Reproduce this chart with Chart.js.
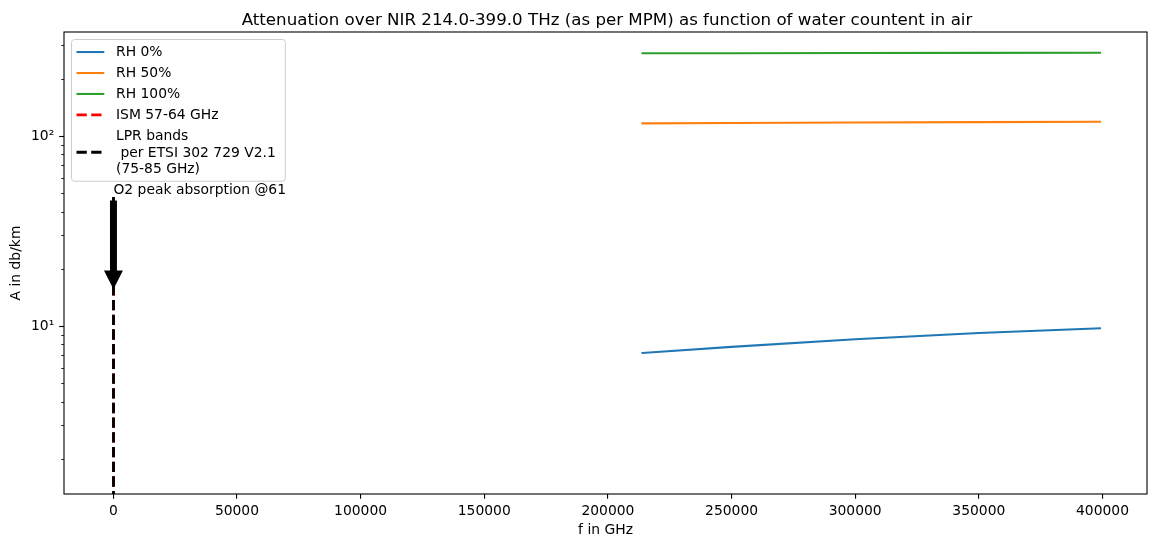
<!DOCTYPE html>
<html><head><meta charset="utf-8">
<script src="https://cdn.jsdelivr.net/npm/chart.js@4.4.1/dist/chart.umd.min.js"></script>
<style>html,body{margin:0;padding:0;background:#fff;}#wrap{width:1159px;height:547px;}</style>
</head><body><div id="wrap"><canvas id="c" width="1159" height="547"></canvas></div>
<script>
const titleText = 'Attenuation over NIR 214.0-399.0 THz (as per MPM) as function of water countent in air';
const xLabel = 'f in GHz';
const yLabel = 'A in db/km';
// frequencies in GHz
const freqGHz = [214000, 250000, 300000, 350000, 399000];
const rh0 = [7.21, 7.77, 8.51, 9.18, 9.72];
const rh50 = [116.6, 117.0, 117.7, 118.3, 118.9];
const rh100 = [272.4, 272.8, 273.3, 273.9, 274.4];
const ismBand = [57, 64];
const lprBand = [75, 85];
const bandLineY = [1, 50];
const o2Peak = 61;
const o2ArrowFrom = 50;
const o2ArrowTo = 15;
const o2Text = 'O2 peak absorption @61';
const xTicks = [0, 50000, 100000, 150000, 200000, 250000, 300000, 350000, 400000];
const yTicks = [2,3,4,5,6,7,8,9,10,20,30,40,50,60,70,80,90,100,200,300];
const yTickLabels = {10: '10\u00B9', 100: '10\u00B2'};
const xRange = [-19935, 417994];
const yRange = [1.306, 352.7];

const FS = 13.89;
const FAM = "'DejaVu Sans'";
Chart.defaults.font.family = FAM;
Chart.defaults.color = '#000';

function series(xs, ys) { return xs.map((x, i) => ({x: x, y: ys[i]})); }
function bandLines(band) {
  const out = [];
  band.forEach((f, i) => {
    if (i > 0) out.push({x: f, y: null});
    out.push({x: f, y: bandLineY[0]});
    out.push({x: f, y: bandLineY[1]});
  });
  return out;
}

const datasets = [
  {label: 'RH 0%', data: series(freqGHz, rh0), borderColor: '#1f77b4', borderWidth: 2.08, borderCapStyle: 'square', order: 4},
  {label: 'RH 50%', data: series(freqGHz, rh50), borderColor: '#ff7f0e', borderWidth: 2.08, borderCapStyle: 'square', order: 3},
  {label: 'RH 100%', data: series(freqGHz, rh100), borderColor: '#2ca02c', borderWidth: 2.08, borderCapStyle: 'square', order: 2},
  {label: 'ISM 57-64 GHz', data: bandLines(ismBand), borderColor: '#ff0000', borderWidth: 2.78, borderDash: [10.3, 4.4], order: 1},
  {label: 'LPR bands\n per ETSI 302 729 V2.1\n(75-85 GHz)', data: bandLines(lprBand), borderColor: '#000000', borderWidth: 2.78, borderDash: [10.3, 4.4], order: 0}
];
datasets.forEach(d => { d.pointRadius = 0; d.fill = false; d.tension = 0; d.spanGaps = false; });

const decor = {
  id: 'decor',
  afterDatasetsDraw(chart) {
    const ctx = chart.ctx, a = chart.chartArea;
    const xs = chart.scales.x, ys = chart.scales.y;
    ctx.save();
    // title
    ctx.font = '16.67px ' + FAM;
    ctx.fillStyle = '#000';
    ctx.textAlign = 'center';
    ctx.textBaseline = 'alphabetic';
    ctx.fillText(titleText, (a.left + a.right) / 2 + 1.5, 25);
    // annotation text
    const tx = xs.getPixelForValue(o2Peak), ty = ys.getPixelForValue(o2ArrowFrom);
    ctx.font = FS + 'px ' + FAM;
    ctx.textAlign = 'left';
    ctx.fillText(o2Text, tx, ty + 0.8);
    // arrow
    let y0 = ty + 3.3, y1 = ys.getPixelForValue(o2ArrowTo);
    const s = 0.05 * (y1 - y0);
    y0 += s; y1 -= s;
    const hw = 2.78, hh = 8.33, hl = 16.67;
    ctx.beginPath();
    ctx.moveTo(tx - hw, y0);
    ctx.lineTo(tx + hw, y0);
    ctx.lineTo(tx + hw, y1 - hl);
    ctx.lineTo(tx + hh, y1 - hl);
    ctx.lineTo(tx, y1);
    ctx.lineTo(tx - hh, y1 - hl);
    ctx.lineTo(tx - hw, y1 - hl);
    ctx.closePath();
    ctx.fillStyle = '#000';
    ctx.fill();
    ctx.lineWidth = 1.39;
    ctx.strokeStyle = '#000';
    ctx.stroke();
    // frame
    ctx.lineWidth = 1.1;
    ctx.strokeStyle = '#000';
    ctx.strokeRect(a.left, a.top, a.right - a.left, a.bottom - a.top);
    // y tick marks
    ys.ticks.forEach(t => {
      const v = t.value;
      const major = Math.abs(Math.log10(v) - Math.round(Math.log10(v))) < 1e-9;
      const py = Math.round(ys.getPixelForValue(v)) + 0.5;
      ctx.lineWidth = major ? 1.1 : 0.83;
      ctx.beginPath();
      ctx.moveTo(a.left, py);
      ctx.lineTo(a.left - (major ? 4.86 : 2.78), py);
      ctx.stroke();
    });
    // legend
    const lx = 71.5, ly = 39.5, pad = 5.56;
    const rowH = 14, gap = 6.95, lineStep = 16.4;
    ctx.font = FS + 'px ' + FAM;
    let maxW = 0, totalH = 0;
    const rows = chart.data.datasets.map(d => {
      const lines = d.label.split('\n');
      lines.forEach(l => { maxW = Math.max(maxW, ctx.measureText(l).width); });
      const h = rowH + (lines.length - 1) * lineStep;
      return {d, lines, h};
    });
    rows.forEach((r, i) => { totalH += r.h + (i ? gap : 0); });
    const textX = 116;
    const boxW = textX + maxW + pad + 4 - lx;
    const boxH = totalH + 2 * pad;
    ctx.beginPath();
    ctx.roundRect(lx, ly, boxW, boxH, 3);
    ctx.fillStyle = 'rgba(255,255,255,0.8)';
    ctx.fill();
    ctx.strokeStyle = '#cccccc';
    ctx.lineWidth = 1;
    ctx.stroke();
    let cy = ly + pad;
    rows.forEach(r => {
      const mid = cy + r.h / 2;
      ctx.beginPath();
      ctx.setLineDash(r.d.borderDash || []);
      ctx.strokeStyle = r.d.borderColor;
      ctx.lineWidth = r.d.borderWidth;
      ctx.moveTo(76.5, mid);
      ctx.lineTo(104.3, mid);
      ctx.stroke();
      ctx.setLineDash([]);
      ctx.fillStyle = '#000';
      ctx.textBaseline = 'middle';
      ctx.textAlign = 'left';
      const n = r.lines.length;
      r.lines.forEach((l, k) => {
        ctx.fillText(l, textX, mid + 0.8 + (k - (n - 1) / 2) * lineStep);
      });
      cy += r.h + gap;
    });
    ctx.restore();
  }
};

new Chart(document.getElementById('c'), {
  type: 'line',
  data: {datasets},
  options: {
    responsive: false,
    animation: false,
    devicePixelRatio: 1,
    layout: {padding: {top: 32, right: 12, left: 0, bottom: 0}},
    plugins: {
      legend: {display: false},
      tooltip: {enabled: false},
      title: {display: false}
    },
    scales: {
      x: {
        type: 'linear', bounds: 'data', min: xRange[0], max: xRange[1],
        afterBuildTicks: s => { s.ticks = xTicks.map(v => ({value: v})); },
        afterFit: s => { s.height = 53; },
        ticks: {autoSkip: false, maxRotation: 0, padding: 4, font: {size: FS}, callback: v => String(v)},
        grid: {display: true, drawOnChartArea: false, drawTicks: true, tickLength: 4.86, color: '#000', lineWidth: 1.1},
        border: {display: false},
        title: {display: true, text: xLabel, font: {size: FS}, padding: {top: 0, bottom: 8.5}}
      },
      y: {
        type: 'logarithmic', bounds: 'data', min: yRange[0], max: yRange[1],
        afterBuildTicks: s => { s.ticks = yTicks.map(v => ({value: v})); },
        afterFit: s => { s.width = 64; },
        ticks: {autoSkip: false, padding: 4.9, font: {size: FS}, callback: v => yTickLabels[v] || ''},
        grid: {display: false, drawTicks: true, tickLength: 4.86},
        border: {display: false},
        title: {display: true, text: yLabel, font: {size: FS}, padding: {top: 8.2, bottom: 0}}
      }
    }
  },
  plugins: [decor]
});
</script>
</body></html>
